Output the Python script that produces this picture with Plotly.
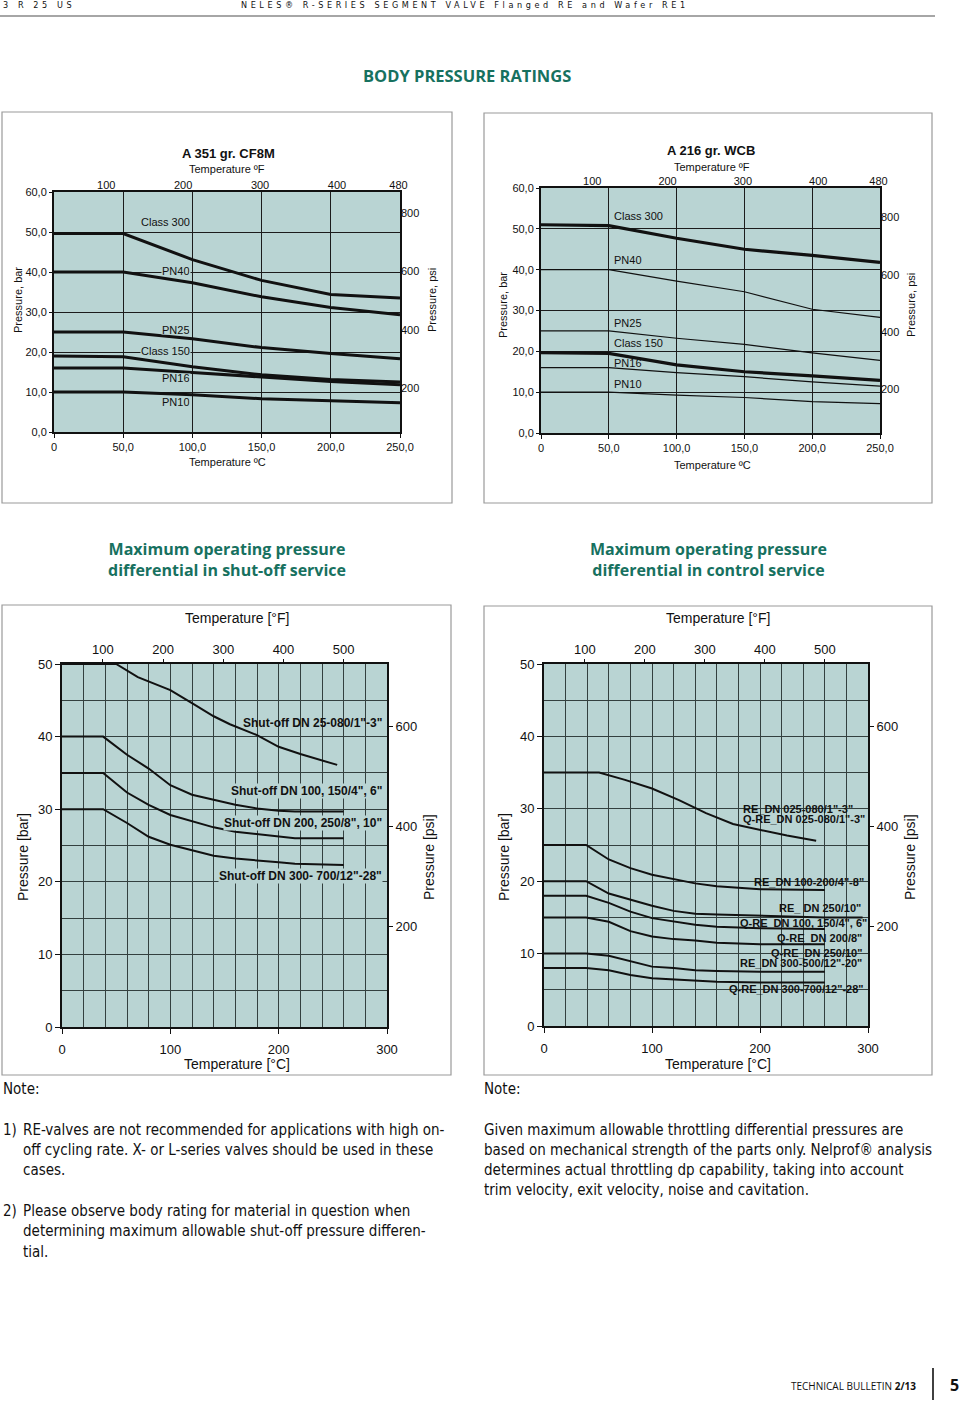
import plotly.graph_objects as go

W, H = 960, 1403

# ---------------- data ----------------
# Body pressure ratings, temperature in degC, pressure in bar
body_temp = [0, 50, 100, 150, 200, 250]
cf8m_class300 = [49.6, 49.6, 43.1, 37.9, 34.4, 33.5]
cf8m_pn40 = [40, 40, 37.3, 33.8, 31.1, 29.3]
cf8m_pn25 = [25, 25, 23.3, 21.1, 19.6, 18.3]
cf8m_class150 = [19.0, 18.8, 16.3, 14.3, 13.1, 12.5]
cf8m_pn16 = [16, 16, 14.9, 13.8, 12.6, 11.8]
cf8m_pn10 = [10, 10, 9.3, 8.3, 7.8, 7.3]

wcb_class300 = [51.0, 50.8, 47.7, 45.0, 43.5, 41.8]
wcb_pn40 = [40, 40, 37.2, 34.6, 30.3, 28.3]
wcb_pn25 = [25, 25, 23.2, 21.7, 19.6, 17.8]
wcb_class150 = [19.7, 19.5, 16.7, 15.0, 14.0, 12.9]
wcb_pn16 = [16, 16, 14.8, 13.8, 12.5, 11.5]
wcb_pn10 = [10, 10, 9.3, 8.7, 7.7, 7.2]

body_labels = ["Class 300", "PN40", "PN25", "Class 150", "PN16", "PN10"]
body_x_ticks = [0, 50, 100, 150, 200, 250]
body_x_text = ["0", "50,0", "100,0", "150,0", "200,0", "250,0"]
body_y_ticks = [0, 10, 20, 30, 40, 50, 60]
body_y_text = ["0,0", "10,0", "20,0", "30,0", "40,0", "50,0", "60,0"]
body_f_ticks = [100, 200, 300, 400, 480]
body_psi_ticks = [200, 400, 600, 800]

# Shut-off service
shut_temp1 = [0, 50, 70, 100, 120, 140, 155, 180, 200, 220, 254]
shut_dn25_080 = [50, 50, 48.2, 46.4, 44.6, 42.8, 41.7, 40.2, 38.6, 37.6, 36.1]
shut_temp = [0, 38, 60, 80, 100, 120, 140, 160, 180, 200, 215, 260]
shut_dn100_150 = [40, 40, 37.5, 35.6, 33.3, 32.0, 31.3, 30.6, 30.1, 29.8, 29.7, 29.7]
shut_dn200_250 = [35, 35, 32.3, 30.6, 29.2, 28.3, 27.5, 26.9, 26.6, 26.3, 26.0, 26.0]
shut_dn300_700 = [30, 30, 28.1, 26.2, 25.1, 24.3, 23.6, 23.2, 22.9, 22.7, 22.5, 22.3]
shut_labels = ['Shut-off DN 25-080/1"-3"', 'Shut-off DN 100, 150/4", 6"',
               'Shut-off DN 200, 250/8", 10"', 'Shut-off DN 300- 700/12"-28"']

# Control service
ctrl_temp_a = [0, 51, 75, 100, 125, 150, 175, 200, 225, 252]
ctrl_re_025_080 = [35, 35, 34.0, 32.8, 31.2, 29.4, 27.9, 27.1, 26.3, 25.6]
ctrl_temp = [0, 39, 60, 80, 100, 120, 140, 160, 200, 260]
ctrl_re_100_200 = [25, 25, 23.0, 21.8, 20.9, 20.3, 19.7, 19.3, 18.9, 18.8]
ctrl_temp_c = [0, 39, 60, 80, 100, 120, 140, 160, 200, 260, 295]
ctrl_re_250 = [20, 20, 18.3, 17.4, 16.6, 15.9, 15.5, 15.4, 15.2, 15.0, 15.0]
ctrl_qre_100_150 = [18, 18, 17.0, 15.8, 14.9, 14.4, 14.0, 13.7, 13.5, 13.4]
ctrl_qre_200 = [15, 15, 14.4, 13.1, 12.35, 12.0, 11.8, 11.5, 11.3, 11.3]
ctrl_re_300_500 = [10, 10, 9.7, 8.9, 8.2, 8.0, 7.7, 7.6, 7.5, 7.5]
ctrl_qre_300_700 = [8, 8, 7.7, 7.05, 6.6, 6.4, 6.2, 6.1, 6.0, 6.0]
ctrl_labels = ['RE_DN 025-080/1"-3"', 'Q-RE_DN 025-080/1"-3"', 'RE_DN 100-200/4"-8"',
               'RE_ DN 250/10"', 'Q-RE_DN 100, 150/4", 6"', 'Q-RE_DN 200/8"',
               'Q-RE_DN 250/10"', 'RE_DN 300-500/12"-20"', 'Q-RE_DN 300-700/12"-28"']

svc_f_ticks = [100, 200, 300, 400, 500]
svc_psi_ticks = [200, 400, 600]

# ---------------- styling ----------------
BG = "#b9d4d3"
TEAL = "#17715f"
INK = "#111111"
ARIAL = "Liberation Sans, Arial, sans-serif"
HEAD = "Open Sans, sans-serif"
NARROW = "Liberation Sans Narrow, DejaVu Sans Condensed, Roboto, sans-serif"


def px(x):
    return x / W


def py(y):
    return 1 - y / H


def ref(letter, n):
    return letter if n == 1 else f"{letter}{n}"


def key(letter, n):
    return f"{letter}axis" if n == 1 else f"{letter}axis{n}"


fig = go.Figure()
layout = {}


def setup_chart(k, box, xr, yr, fr, psir, small):
    main, over = 2 * k - 1, 2 * k
    x0, x1, y0, y1 = box
    fs = 11 if small else 13
    tf = dict(family=ARIAL, size=fs, color=INK)
    gridc = "#1c1c1c" if small else "#33403f"
    xa = dict(domain=[px(x0), px(x1)], range=xr, anchor=ref("y", main), side="bottom",
              showline=True, mirror=True, linecolor=INK, linewidth=2, zeroline=False,
              showgrid=True, gridcolor=gridc, gridwidth=1, ticks="outside", ticklen=4,
              tickcolor=INK, tickfont=tf, fixedrange=True, automargin=False)
    ya = dict(domain=[py(y1), py(y0)], range=yr, anchor=ref("x", main), side="left",
              showline=True, mirror=True, linecolor=INK, linewidth=2, zeroline=False,
              showgrid=True, gridcolor=gridc, gridwidth=1, ticks="outside", ticklen=4,
              tickcolor=INK, tickfont=tf, fixedrange=True, automargin=False)
    if small:
        xa.update(tickvals=body_x_ticks, ticktext=body_x_text)
        ya.update(tickvals=body_y_ticks, ticktext=body_y_text, ticklen=3)
    else:
        xa.update(tickvals=[0, 100, 200, 300], ticklen=5, ticklabelstandoff=4,
                  minor=dict(dtick=20, showgrid=True, gridcolor=gridc, gridwidth=1, ticks=""))
        ya.update(tickvals=[0, 10, 20, 30, 40, 50], ticklen=5,
                  minor=dict(dtick=5, showgrid=True, gridcolor=gridc, gridwidth=1, ticks=""))
    xt = dict(overlaying=ref("x", main), anchor=ref("y", over), side="top", range=fr,
              showgrid=False, zeroline=False, showline=False, tickfont=tf, fixedrange=True,
              tickvals=body_f_ticks if small else svc_f_ticks, automargin=False,
              ticks="" if small else "outside", ticklen=4, tickcolor=INK)
    yp = dict(overlaying=ref("y", main), anchor=ref("x", over), side="right", range=psir,
              showgrid=False, zeroline=False, showline=False, tickfont=tf, fixedrange=True,
              tickvals=body_psi_ticks if small else svc_psi_ticks, automargin=False,
              ticks="" if small else "outside", ticklen=5, tickcolor=INK)
    layout[key("x", main)] = xa
    layout[key("y", main)] = ya
    layout[key("x", over)] = xt
    layout[key("y", over)] = yp
    fig.add_trace(go.Scatter(x=[None], y=[None], xaxis=ref("x", over), yaxis=ref("y", over),
                             showlegend=False, hoverinfo="skip"))
    return ref("x", main), ref("y", main)


def line(ax, x, y, w):
    fig.add_trace(go.Scatter(x=x, y=y, mode="lines", xaxis=ax[0], yaxis=ax[1],
                             line=dict(color=INK, width=w), showlegend=False, hoverinfo="skip"))


annots = []


def ann(text, x, y, size=11, color=INK, xanchor="center", family=ARIAL, angle=0,
        bg=None, height=None, yanchor="middle", align="left"):
    a = dict(text=text, x=px(x), y=py(y), xref="paper", yref="paper", showarrow=False,
             xanchor=xanchor, yanchor=yanchor, textangle=angle, align=align,
             font=dict(family=family, size=size, color=color), borderpad=0)
    if bg:
        a["bgcolor"] = bg
    if height:
        a["height"] = height
    annots.append(a)


# ---------- chart 1: A 351 gr. CF8M ----------
ax1 = setup_chart(1, (54, 400, 192, 432), [0, 250], [0, 60], [32, 482], [49, 873], True)
for s in [cf8m_class300, cf8m_pn40, cf8m_pn25, cf8m_class150, cf8m_pn16, cf8m_pn10]:
    line(ax1, body_temp, s, 3)
ann("<b>A 351 gr. CF8M</b>", 228, 153, size=13)
ann("Temperature ºF", 227, 169)
ann("Temperature ºC", 227, 462)
ann("Pressure, bar", 18, 300, angle=-90)
ann("Pressure, psi", 432, 300, angle=-90)
for lab, yy in zip(body_labels, [221.7, 271.3, 330, 350.7, 377.7, 402.3]):
    ann(lab, 191, yy, xanchor="right", bg=BG, height=8)

# ---------- chart 2: A 216 gr. WCB ----------
ax2 = setup_chart(2, (541, 880, 188, 433), [0, 250], [0, 60], [32, 482], [48, 903], True)
for s, w in zip([wcb_class300, wcb_pn40, wcb_pn25, wcb_class150, wcb_pn16, wcb_pn10],
                [3.2, 1.2, 1.2, 3.2, 1.2, 1.2]):
    line(ax2, body_temp, s, w)
ann("<b>A 216 gr. WCB</b>", 711, 150, size=13)
ann("Temperature ºF", 712, 167)
ann("Temperature ºC", 712, 465)
ann("Pressure, bar", 503, 305, angle=-90)
ann("Pressure, psi", 911, 305, angle=-90)
for lab, yy in zip(body_labels, [216, 260, 323, 343, 363, 384]):
    ann(lab, 613, yy, xanchor="left")

# ---------- chart 3: shut-off ----------
ax3 = setup_chart(3, (62, 387, 664, 1027), [0, 300], [0, 50], [32, 572], [0, 50 * 14.5038], False)
line(ax3, shut_temp1, shut_dn25_080, 2)
for s in [shut_dn100_150, shut_dn200_250, shut_dn300_700]:
    line(ax3, shut_temp, s, 2)
ann("Temperature [°F]", 237, 618, size=14)
ann("Temperature [°C]", 237, 1064, size=14)
ann("Pressure [bar]", 23, 857, size=14, angle=-90)
ann("Pressure [psi]", 429, 857, size=14, angle=-90)
for i, (lab, yy) in enumerate(zip(shut_labels, [723.3, 791, 822.7, 876])):
    ann("<b>" + lab + "</b>", 383, yy, size=12, xanchor="right",
        bg=None if i == 0 else BG)

# ---------- chart 4: control ----------
ax4 = setup_chart(4, (544, 868, 664, 1026), [0, 300], [0, 50], [32, 572], [0, 50 * 14.5038], False)
line(ax4, ctrl_temp_a, ctrl_re_025_080, 2)
line(ax4, ctrl_temp, ctrl_re_100_200, 2)
line(ax4, ctrl_temp_c, ctrl_re_250, 2)
for s in [ctrl_qre_100_150, ctrl_qre_200, ctrl_re_300_500, ctrl_qre_300_700]:
    line(ax4, ctrl_temp, s, 2)
ann("Temperature [°F]", 718, 618, size=14)
ann("Temperature [°C]", 718, 1064, size=14)
ann("Pressure [bar]", 504, 857, size=14, angle=-90)
ann("Pressure [psi]", 910, 857, size=14, angle=-90)
for lab, xr_, yy in zip(ctrl_labels,
                        [854, 866, 865, 862, 868, 863, 863, 863, 865],
                        [809, 819, 881.7, 908.3, 922.7, 937.7, 953.3, 963.3, 989.3]):
    ann("<b>" + lab + "</b>", xr_, yy, size=11, xanchor="right")

# ---------- page text ----------
ann('<span style="letter-spacing:3.6px">3 R 25 US</span>', 2, 5, size=9, xanchor="left",
    family=NARROW)
ann('<span style="letter-spacing:3.6px">NELES® R-SERIES SEGMENT VALVE Flanged RE and Wafer RE1</span>',
    240, 5, size=9, xanchor="left", family=NARROW)
ann("<b>BODY PRESSURE RATINGS</b>", 467, 75, size=16.5, color=TEAL, family=HEAD)
ann("<b>Maximum operating pressure<br>differential in shut-off service</b>", 227, 559,
    size=16, color=TEAL, family=HEAD, align="center")
ann("<b>Maximum operating pressure<br>differential in control service</b>", 708, 559,
    size=16, color=TEAL, family=HEAD, align="center")

NS = 15
ann("Note:", 2, 1089, size=NS, xanchor="left", family=NARROW)
ann("Note:", 483, 1089, size=NS, xanchor="left", family=NARROW)
left_lines = [
    ("1)", "RE-valves are not recommended for applications with high on-", 1130),
    ("", "off cycling rate. X- or L-series valves should be used in these", 1150),
    ("", "cases.", 1170),
    ("2)", "Please observe body rating for material in question when", 1211),
    ("", "determining maximum allowable shut-off pressure differen-", 1231),
    ("", "tial.", 1252),
]
for num, txt, yy in left_lines:
    if num:
        ann(num, 2, yy, size=NS, xanchor="left", family=NARROW)
    ann(txt, 22, yy, size=NS, xanchor="left", family=NARROW)
right_lines = [
    ("Given maximum allowable throttling differential pressures are", 1130),
    ("based on mechanical strength of the parts only. Nelprof® analysis", 1150),
    ("determines actual throttling dp capability, taking into account", 1170),
    ("trim velocity, exit velocity, noise and cavitation.", 1190),
]
for txt, yy in right_lines:
    ann(txt, 483, yy, size=NS, xanchor="left", family=NARROW)

ann("TECHNICAL BULLETIN <b>2/13</b>", 917, 1386, size=10, xanchor="right", family=HEAD)
ann("<b>5</b>", 954, 1385, size=16, family=HEAD)

# ---------- shapes ----------
shapes = []
for (a, b, c, d) in [(2, 112, 452, 503), (484, 113, 932, 503), (2, 605, 451, 1075), (484, 606, 932, 1075)]:
    shapes.append(dict(type="rect", xref="paper", yref="paper", x0=px(a), x1=px(c),
                       y0=py(b), y1=py(d), line=dict(color="#9a9a9a", width=1.2), layer="below"))
shapes.append(dict(type="line", xref="paper", yref="paper", x0=0, x1=px(935), y0=py(16), y1=py(16),
                   line=dict(color="#888888", width=1.6)))
shapes.append(dict(type="line", xref="paper", yref="paper", x0=px(933), x1=px(933), y0=py(1368),
                   y1=py(1400), line=dict(color=INK, width=1.6)))

layout.update(width=W, height=H,
              margin=dict(l=0, r=0, t=0, b=0, pad=0, autoexpand=False),
              paper_bgcolor="white", plot_bgcolor=BG, showlegend=False,
              annotations=annots, shapes=shapes)
fig.update_layout(**layout)
fig.write_html("out.html", config={"displayModeBar": False, "staticPlot": True},
               post_script="document.body.style.margin='0';document.body.style.padding='0';"
                           "document.documentElement.style.overflow='hidden';")
